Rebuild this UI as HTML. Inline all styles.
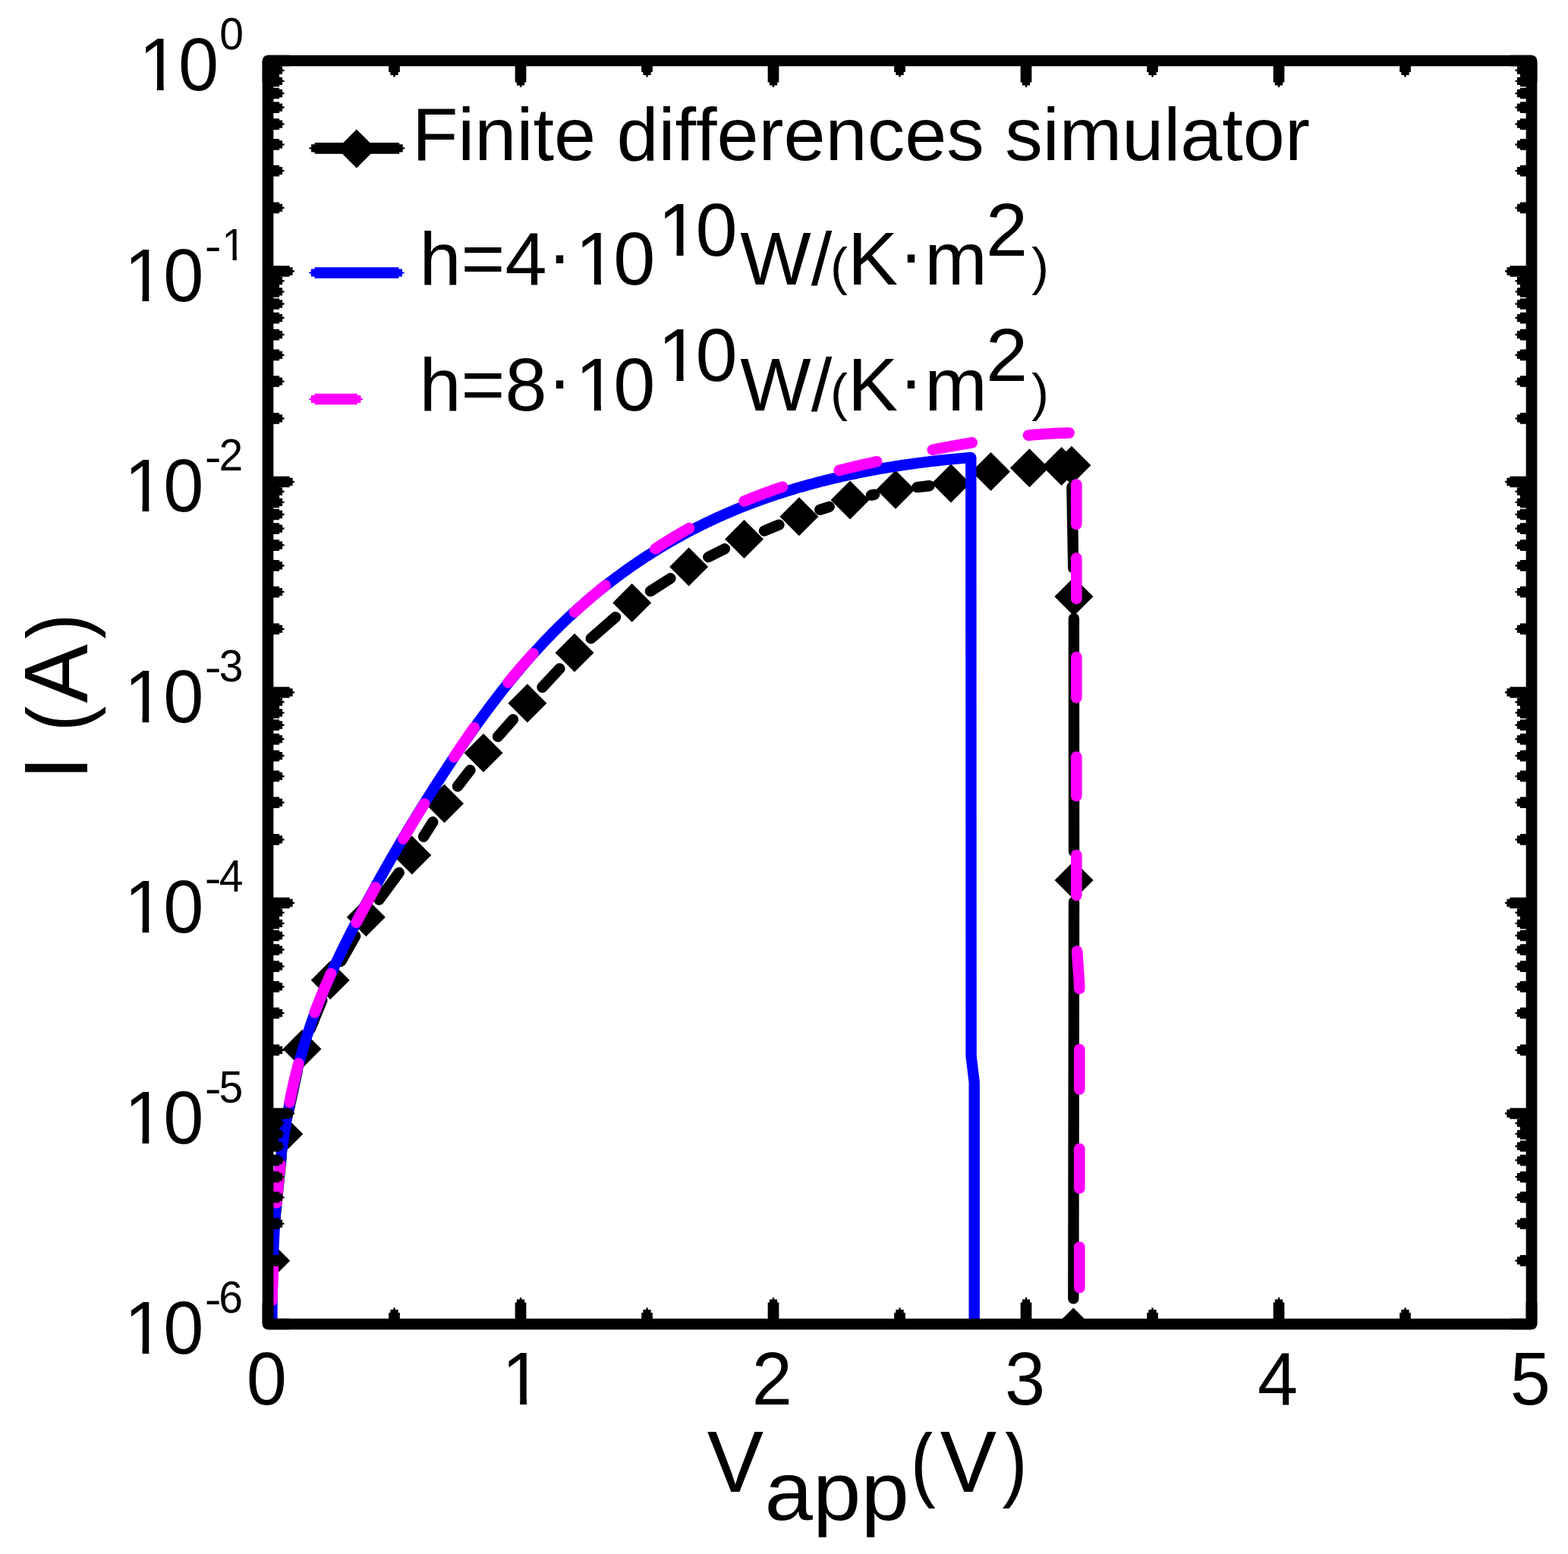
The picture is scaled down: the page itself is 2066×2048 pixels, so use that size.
<!DOCTYPE html><html><head><meta charset="utf-8"><style>html,body{margin:0;padding:0;background:#fff;}svg{display:block}</style></head><body>
<svg width="2066" height="2048" viewBox="0 0 2066 2048">
<rect width="2066" height="2048" fill="#fff"/>
<defs><clipPath id="pc"><rect x="353.0" y="80.0" width="1665.0" height="1665.0"/></clipPath><clipPath id="xc"><rect x="0" y="1887" width="2066" height="161"/></clipPath></defs>
<g clip-path="url(#pc)">
<path d="M359.62,1632.85 L370.88,1522.95 M379.87,1466.35 L391.93,1410.55 M408.88,1355.94 L424.32,1318.26 M449.38,1266.75 L468.12,1233.75 M499.37,1185.73 L525.73,1150.07 M558.06,1102.69 L570.24,1083.31 M603.02,1036.27 L619.48,1014.93 M656.01,970.70 L675.89,948.20 M714.49,905.72 L737.41,881.18 M778.68,841.39 L811.02,813.31 M856.92,779.11 L883.38,762.29 M933.28,734.08 L954.82,723.32 M1007.04,699.58 L1026.36,691.62 M1080.21,671.87 L1092.69,667.83 M1147.98,652.61 L1152.02,651.69 M1208.52,642.06 L1224.48,640.24 M1412.40,641.90 L1414.25,748.61 M1414.92,815.00 L1415.08,1122.30 M1415.06,1188.70 L1414.35,1711.30" stroke="#000" stroke-width="14.4" stroke-linecap="round" fill="none"/>
<path d="M356.70,1635.90 L382.20,1661.40 L356.70,1686.90 L331.20,1661.40Z M373.80,1468.90 L399.30,1494.40 L373.80,1519.90 L348.30,1494.40Z M398.00,1357.00 L423.50,1382.50 L398.00,1408.00 L372.50,1382.50Z M435.20,1266.20 L460.70,1291.70 L435.20,1317.20 L409.70,1291.70Z M482.30,1183.30 L507.80,1208.80 L482.30,1234.30 L456.80,1208.80Z M542.80,1101.50 L568.30,1127.00 L542.80,1152.50 L517.30,1127.00Z M585.50,1033.50 L611.00,1059.00 L585.50,1084.50 L560.00,1059.00Z M637.00,966.70 L662.50,992.20 L637.00,1017.70 L611.50,992.20Z M694.90,901.20 L720.40,926.70 L694.90,952.20 L669.40,926.70Z M757.00,834.70 L782.50,860.20 L757.00,885.70 L731.50,860.20Z M832.70,769.00 L858.20,794.50 L832.70,820.00 L807.20,794.50Z M907.60,721.40 L933.10,746.90 L907.60,772.40 L882.10,746.90Z M980.50,685.00 L1006.00,710.50 L980.50,736.00 L955.00,710.50Z M1052.90,655.20 L1078.40,680.70 L1052.90,706.20 L1027.40,680.70Z M1120.00,633.50 L1145.50,659.00 L1120.00,684.50 L1094.50,659.00Z M1180.00,619.80 L1205.50,645.30 L1180.00,670.80 L1154.50,645.30Z M1253.00,611.50 L1278.50,637.00 L1253.00,662.50 L1227.50,637.00Z M1305.50,596.00 L1331.00,621.50 L1305.50,647.00 L1280.00,621.50Z M1356.40,591.20 L1381.90,616.70 L1356.40,642.20 L1330.90,616.70Z M1398.70,589.00 L1424.20,614.50 L1398.70,640.00 L1373.20,614.50Z M1411.90,587.70 L1437.40,613.20 L1411.90,638.70 L1386.40,613.20Z M1414.90,760.80 L1440.40,786.30 L1414.90,811.80 L1389.40,786.30Z M1415.10,1134.50 L1440.60,1160.00 L1415.10,1185.50 L1389.60,1160.00Z M1414.30,1723.50 L1439.80,1749.00 L1414.30,1774.50 L1388.80,1749.00Z" fill="#000"/>
<path d="M357.50,1765.00 L358.42,1737.95 L358.43,1735.27 L358.44,1732.60 L358.45,1729.92 L358.46,1727.24 L358.48,1724.56 L358.50,1721.88 L358.52,1719.20 L358.54,1716.52 L358.57,1713.83 L358.60,1711.15 L358.63,1708.46 L358.66,1705.77 L358.70,1703.09 L358.74,1700.40 L358.78,1697.71 L358.83,1695.02 L358.88,1692.33 L358.93,1689.64 L358.99,1686.94 L359.05,1684.25 L359.11,1681.56 L359.18,1678.86 L359.25,1676.17 L359.32,1673.47 L359.39,1670.78 L359.47,1668.08 L359.56,1665.38 L359.64,1662.69 L359.74,1659.99 L359.83,1657.29 L359.93,1654.59 L360.03,1651.90 L360.14,1649.20 L360.25,1646.50 L360.36,1643.80 L360.48,1641.10 L360.60,1638.40 L360.72,1635.70 L360.86,1633.00 L360.99,1630.30 L361.13,1627.60 L361.27,1624.90 L361.42,1622.20 L361.57,1619.50 L361.73,1616.80 L361.89,1614.10 L362.05,1611.40 L362.22,1608.71 L362.40,1606.01 L362.58,1603.31 L362.76,1600.61 L362.95,1597.91 L363.15,1595.21 L363.35,1592.52 L363.55,1589.82 L363.76,1587.12 L363.97,1584.43 L364.19,1581.73 L364.42,1579.04 L364.65,1576.34 L364.88,1573.65 L365.12,1570.95 L365.37,1568.26 L365.62,1565.57 L365.88,1562.88 L366.14,1560.19 L366.41,1557.50 L366.68,1554.81 L366.96,1552.12 L367.25,1549.43 L367.54,1546.74 L367.84,1544.06 L368.14,1541.37 L368.45,1538.69 L368.76,1536.01 L369.08,1533.32 L369.41,1530.64 L369.74,1527.96 L370.08,1525.28 L370.43,1522.61 L370.78,1519.93 L371.14,1517.25 L371.50,1514.58 L371.87,1511.91 L372.25,1509.24 L372.64,1506.57 L373.03,1503.90 L373.43,1501.23 L373.83,1498.56 L374.24,1495.90 L374.66,1493.23 L375.08,1490.57 L375.51,1487.91 L375.95,1485.25 L376.40,1482.60 L376.85,1479.94 L377.31,1477.29 L377.78,1474.64 L378.25,1471.99 L378.73,1469.34 L379.22,1466.69 L379.72,1464.04 L380.22,1461.40 L380.73,1458.76 L381.25,1456.12 L381.78,1453.48 L382.31,1450.85 L382.85,1448.21 L383.40,1445.58 L383.96,1442.95 L384.53,1440.32 L385.10,1437.70 L385.68,1435.07 L386.27,1432.45 L386.86,1429.83 L387.47,1427.22 L388.08,1424.60 L388.70,1421.99 L389.33,1419.38 L389.97,1416.77 L390.62,1414.16 L391.27,1411.56 L391.93,1408.96 L392.61,1406.36 L393.28,1403.77 L393.97,1401.17 L394.67,1398.58 L395.38,1395.99 L396.09,1393.41 L396.81,1390.83 L397.55,1388.25 L398.29,1385.67 L399.04,1383.09 L399.80,1380.52 L400.56,1377.95 L401.34,1375.38 L402.13,1372.82 L402.92,1370.26 L403.73,1367.70 L404.54,1365.15 L405.36,1362.59 L406.20,1360.05 L407.04,1357.50 L407.89,1354.96 L408.75,1352.42 L409.62,1349.88 L410.50,1347.35 L411.39,1344.81 L412.29,1342.29 L413.20,1339.76 L414.12,1337.24 L415.05,1334.72 L415.99,1332.21 L416.94,1329.70 L417.89,1327.19 L418.86,1324.68 L419.83,1322.18 L420.82,1319.68 L421.81,1317.19 L422.81,1314.69 L423.82,1312.20 L424.84,1309.71 L425.86,1307.23 L426.90,1304.75 L427.94,1302.27 L428.99,1299.79 L430.05,1297.32 L431.11,1294.85 L432.18,1292.38 L433.26,1289.91 L434.35,1287.45 L435.44,1284.99 L436.55,1282.53 L437.65,1280.08 L438.77,1277.63 L439.89,1275.18 L441.02,1272.73 L442.15,1270.28 L443.29,1267.84 L444.44,1265.40 L445.59,1262.96 L446.75,1260.53 L447.92,1258.10 L449.09,1255.67 L450.27,1253.24 L451.45,1250.81 L452.63,1248.39 L453.83,1245.97 L455.02,1243.55 L456.23,1241.13 L457.43,1238.72 L458.64,1236.30 L459.86,1233.89 L461.08,1231.48 L462.31,1229.08 L463.54,1226.67 L464.77,1224.27 L466.01,1221.87 L467.25,1219.47 L468.50,1217.07 L469.74,1214.68 L471.00,1212.29 L472.25,1209.90 L473.51,1207.51 L474.78,1205.12 L476.04,1202.73 L477.31,1200.35 L478.58,1197.97 L479.85,1195.59 L481.13,1193.21 L482.41,1190.83 L483.69,1188.46 L484.98,1186.08 L486.26,1183.71 L487.55,1181.34 L488.84,1178.97 L490.14,1176.60 L491.43,1174.24 L492.73,1171.87 L494.04,1169.51 L495.34,1167.15 L496.65,1164.79 L497.96,1162.43 L499.27,1160.08 L500.58,1157.72 L501.90,1155.37 L503.22,1153.02 L504.54,1150.67 L505.86,1148.32 L507.19,1145.98 L508.52,1143.63 L509.85,1141.29 L511.19,1138.95 L512.52,1136.61 L513.86,1134.27 L515.21,1131.93 L516.55,1129.60 L517.90,1127.26 L519.25,1124.93 L520.60,1122.60 L521.96,1120.27 L523.31,1117.94 L524.68,1115.62 L526.04,1113.29 L527.40,1110.97 L528.77,1108.65 L530.14,1106.33 L531.52,1104.01 L532.89,1101.70 L534.27,1099.38 L535.65,1097.07 L537.04,1094.76 L538.42,1092.45 L539.81,1090.14 L541.21,1087.83 L542.60,1085.53 L544.00,1083.23 L545.40,1080.92 L546.80,1078.62 L548.21,1076.32 L549.61,1074.03 L551.03,1071.73 L552.44,1069.44 L553.86,1067.14 L555.27,1064.85 L556.70,1062.56 L558.12,1060.27 L559.55,1057.99 L560.98,1055.70 L562.41,1053.42 L563.84,1051.14 L565.28,1048.86 L566.72,1046.58 L568.17,1044.30 L569.61,1042.02 L571.06,1039.75 L572.51,1037.48 L573.97,1035.21 L575.42,1032.94 L576.88,1030.67 L578.35,1028.40 L579.81,1026.14 L581.28,1023.87 L582.75,1021.61 L584.23,1019.35 L585.70,1017.09 L587.18,1014.83 L588.66,1012.58 L590.15,1010.32 L591.64,1008.07 L593.13,1005.82 L594.62,1003.57 L596.12,1001.32 L597.62,999.08 L599.12,996.83 L600.63,994.59 L602.14,992.35 L603.65,990.12 L605.17,987.88 L606.69,985.65 L608.21,983.42 L609.74,981.19 L611.27,978.97 L612.81,976.74 L614.34,974.52 L615.89,972.31 L617.43,970.09 L618.98,967.88 L620.53,965.67 L622.09,963.46 L623.65,961.26 L625.21,959.06 L626.78,956.86 L628.35,954.67 L629.93,952.48 L631.51,950.29 L633.09,948.10 L634.68,945.92 L636.27,943.74 L637.87,941.57 L639.47,939.40 L641.08,937.23 L642.69,935.07 L644.30,932.91 L645.92,930.75 L647.55,928.60 L649.17,926.45 L650.81,924.30 L652.44,922.16 L654.09,920.02 L655.73,917.89 L657.38,915.76 L659.04,913.63 L660.70,911.51 L662.37,909.40 L664.04,907.28 L665.71,905.18 L667.40,903.07 L669.08,900.97 L670.77,898.88 L672.47,896.79 L674.17,894.70 L675.88,892.62 L677.59,890.55 L679.31,888.47 L681.03,886.41 L682.76,884.35 L684.49,882.29 L686.23,880.24 L687.98,878.19 L689.73,876.15 L691.48,874.12 L693.24,872.08 L695.01,870.06 L696.78,868.04 L698.56,866.02 L700.35,864.02 L702.14,862.01 L703.94,860.01 L705.74,858.02 L707.55,856.04 L709.36,854.06 L711.18,852.08 L713.01,850.11 L714.84,848.15 L716.68,846.19 L718.53,844.24 L720.38,842.30 L722.24,840.36 L724.11,838.42 L725.98,836.50 L727.86,834.58 L729.74,832.66 L731.63,830.76 L733.53,828.86 L735.43,826.96 L737.34,825.08 L739.26,823.19 L741.19,821.32 L743.12,819.45 L745.06,817.59 L747.00,815.74 L748.95,813.89 L750.91,812.05 L752.88,810.22 L754.85,808.40 L756.84,806.58 L758.82,804.77 L760.82,802.96 L762.82,801.17 L764.83,799.38 L766.85,797.60 L768.87,795.82 L770.90,794.05 L772.94,792.29 L774.98,790.54 L777.03,788.80 L779.09,787.06 L781.15,785.33 L783.22,783.61 L785.30,781.89 L787.39,780.19 L789.48,778.49 L791.57,776.80 L793.68,775.11 L795.79,773.43 L797.91,771.77 L800.03,770.10 L802.16,768.45 L804.29,766.81 L806.44,765.17 L808.59,763.54 L810.74,761.92 L812.90,760.30 L815.07,758.70 L817.24,757.10 L819.42,755.51 L821.61,753.92 L823.80,752.35 L826.00,750.78 L828.20,749.23 L830.41,747.67 L832.62,746.13 L834.84,744.60 L837.07,743.07 L839.30,741.56 L841.54,740.05 L843.79,738.55 L846.03,737.05 L848.29,735.57 L850.55,734.09 L852.82,732.62 L855.09,731.16 L857.36,729.71 L859.65,728.27 L861.93,726.84 L864.23,725.41 L866.53,723.99 L868.83,722.59 L871.14,721.19 L873.45,719.79 L875.77,718.41 L878.10,717.04 L880.42,715.67 L882.76,714.31 L885.10,712.97 L887.44,711.63 L889.79,710.30 L892.14,708.97 L894.50,707.66 L896.87,706.36 L899.24,705.06 L901.61,703.77 L903.99,702.50 L906.37,701.23 L908.76,699.97 L911.15,698.72 L913.54,697.48 L915.94,696.24 L918.35,695.02 L920.76,693.80 L923.17,692.60 L925.59,691.40 L928.01,690.22 L930.44,689.04 L932.87,687.87 L935.31,686.71 L937.75,685.56 L940.19,684.42 L942.64,683.29 L945.09,682.17 L947.54,681.05 L950.00,679.95 L952.47,678.85 L954.93,677.77 L957.41,676.69 L959.88,675.63 L962.36,674.57 L964.84,673.52 L967.33,672.48 L969.82,671.45 L972.31,670.42 L974.81,669.41 L977.31,668.41 L979.81,667.41 L982.32,666.42 L984.83,665.44 L987.35,664.47 L989.87,663.51 L992.39,662.56 L994.91,661.62 L997.44,660.68 L999.97,659.75 L1002.51,658.84 L1005.04,657.93 L1007.58,657.03 L1010.13,656.13 L1012.68,655.25 L1015.23,654.37 L1017.78,653.50 L1020.33,652.64 L1022.89,651.79 L1025.45,650.95 L1028.02,650.11 L1030.59,649.29 L1033.16,648.47 L1035.73,647.66 L1038.30,646.85 L1040.88,646.06 L1043.46,645.27 L1046.05,644.49 L1048.63,643.72 L1051.22,642.96 L1053.81,642.20 L1056.40,641.46 L1059.00,640.72 L1061.60,639.98 L1064.20,639.26 L1066.80,638.54 L1069.40,637.83 L1072.01,637.13 L1074.62,636.44 L1077.23,635.75 L1079.85,635.07 L1082.46,634.40 L1085.08,633.73 L1087.70,633.08 L1090.32,632.43 L1092.94,631.79 L1095.57,631.15 L1098.19,630.52 L1100.82,629.90 L1103.45,629.29 L1106.09,628.68 L1108.72,628.08 L1111.36,627.49 L1113.99,626.90 L1116.63,626.33 L1119.27,625.76 L1121.91,625.19 L1124.56,624.63 L1127.20,624.08 L1129.85,623.54 L1132.49,623.00 L1135.14,622.47 L1137.79,621.95 L1140.45,621.43 L1143.10,620.92 L1145.75,620.42 L1148.41,619.92 L1151.06,619.43 L1153.72,618.95 L1156.38,618.47 L1159.04,618.00 L1161.70,617.53 L1164.36,617.08 L1167.02,616.62 L1169.68,616.18 L1172.35,615.74 L1175.01,615.31 L1177.67,614.88 L1180.34,614.46 L1183.01,614.05 L1185.67,613.64 L1188.34,613.23 L1191.01,612.84 L1193.68,612.45 L1196.35,612.06 L1199.02,611.69 L1201.69,611.31 L1204.36,610.95 L1207.03,610.59 L1209.70,610.23 L1212.37,609.88 L1215.04,609.54 L1217.71,609.20 L1220.38,608.87 L1223.05,608.54 L1225.73,608.22 L1228.40,607.91 L1231.07,607.60 L1233.74,607.29 L1236.41,606.99 L1239.09,606.70 L1241.76,606.41 L1244.43,606.13 L1247.10,605.85 L1249.77,605.58 L1252.44,605.32 L1255.11,605.05 L1257.78,604.80 L1260.45,604.55 L1263.12,604.30 L1265.79,604.06 L1268.46,603.82 L1271.12,603.59 L1273.79,603.37 L1276.46,603.15 L1279.12,602.93 M1279.30,603.50 L1279.60,1392.00 L1283.70,1426.00 L1283.70,1765.00" stroke="#0000ff" stroke-width="14.4" stroke-linejoin="round" stroke-linecap="round" fill="none"/>
<path d="M358.46,1713.90 L358.53,1711.55 L358.60,1709.19 L358.68,1706.84 L358.75,1704.49 L358.82,1702.13 L358.90,1699.78 L358.97,1697.42 L359.05,1695.07 L359.12,1692.72 L359.20,1690.36 L359.28,1688.01 L359.36,1685.66 L359.44,1683.31 L359.52,1680.95 L359.60,1678.60 L359.69,1676.25 L359.77,1673.90 L359.86,1671.55 L359.95,1669.19 L360.04,1666.84 L360.13,1664.49 L360.20,1662.73 M364.46,1585.30 L364.64,1582.96 L364.82,1580.62 L365.01,1578.28 L365.19,1575.94 L365.38,1573.60 L365.58,1571.26 L365.78,1568.92 L365.98,1566.59 L366.19,1564.25 L366.40,1561.91 L366.61,1559.58 L366.83,1557.24 L367.05,1554.90 L367.28,1552.57 L367.51,1550.23 L367.74,1547.90 L367.98,1545.57 L368.22,1543.23 L368.47,1540.90 L368.72,1538.57 L368.98,1536.24 L369.24,1533.91 L369.24,1533.91 M381.63,1452.68 L382.09,1450.37 L382.55,1448.07 L383.02,1445.76 L383.50,1443.46 L383.99,1441.15 L384.48,1438.85 L384.97,1436.55 L385.47,1434.25 L385.98,1431.96 L386.50,1429.66 L387.02,1427.36 L387.55,1425.07 L388.09,1422.78 L388.63,1420.49 L389.18,1418.20 L389.73,1415.91 L390.30,1413.63 L390.87,1411.34 L391.44,1409.06 L392.03,1406.78 L392.61,1404.50 L393.21,1402.23 L393.36,1401.66 M414.66,1334.51 L415.49,1332.32 L416.32,1330.12 L417.16,1327.94 L418.01,1325.75 L418.87,1323.57 L419.73,1321.39 L420.60,1319.21 L421.47,1317.04 L422.35,1314.86 L423.24,1312.70 L424.14,1310.53 L425.04,1308.37 L425.95,1306.20 L426.86,1304.05 L427.78,1301.89 L428.71,1299.74 L429.64,1297.59 L430.58,1295.44 L431.53,1293.29 L432.48,1291.15 L433.43,1289.01 L434.39,1286.87 L435.36,1284.73 L436.09,1283.13 M469.51,1215.83 L470.61,1213.75 L471.72,1211.67 L472.82,1209.60 L473.93,1207.52 L475.04,1205.45 L476.15,1203.38 L477.27,1201.31 L478.38,1199.24 L479.50,1197.17 L480.62,1195.10 L481.75,1193.03 L482.87,1190.97 L483.99,1188.90 L485.12,1186.84 L486.25,1184.77 L487.38,1182.71 L488.51,1180.65 L489.65,1178.59 L490.78,1176.53 L491.92,1174.47 L493.06,1172.41 L494.20,1170.35 L494.77,1169.32 M531.25,1105.53 L532.45,1103.51 L533.64,1101.48 L534.84,1099.46 L536.04,1097.44 L537.24,1095.42 L538.45,1093.40 L539.65,1091.38 L540.86,1089.36 L542.07,1087.35 L543.28,1085.33 L544.49,1083.32 L545.70,1081.31 L546.92,1079.29 L548.13,1077.28 L549.35,1075.27 L550.57,1073.27 L551.80,1071.26 L553.02,1069.25 L554.25,1067.25 L555.47,1065.24 L556.70,1063.24 L557.93,1061.24 L559.17,1059.24 L559.17,1059.24 M598.28,997.85 L599.57,995.90 L600.87,993.94 L602.17,991.98 L603.47,990.03 L604.77,988.08 L606.08,986.13 L607.39,984.19 L608.70,982.24 L610.01,980.30 L611.33,978.36 L612.65,976.42 L613.97,974.48 L615.30,972.55 L616.63,970.61 L617.96,968.68 L619.29,966.75 L620.63,964.83 L621.97,962.90 L623.32,960.98 L624.67,959.06 L624.67,959.06 M669.51,899.61 L670.99,897.79 L672.48,895.98 L673.98,894.16 L675.48,892.36 L676.99,890.55 L678.50,888.75 L680.01,886.95 L681.54,885.16 L683.06,883.37 L684.59,881.59 L686.13,879.80 L687.67,878.03 L689.22,876.25 L690.77,874.48 L692.33,872.72 L693.89,870.95 L695.45,869.20 L697.02,867.44 L698.60,865.69 L700.18,863.95 L701.76,862.20 L702.56,861.33 M757.06,806.68 L758.80,805.09 L760.54,803.50 L762.28,801.91 L764.03,800.33 L765.79,798.76 L767.54,797.19 L769.31,795.62 L771.07,794.06 L772.84,792.50 L774.62,790.95 L776.39,789.40 L778.18,787.86 L779.96,786.33 L781.75,784.79 L783.55,783.27 L785.35,781.75 L787.15,780.23 L788.95,778.72 L790.76,777.21 L792.58,775.71 L794.40,774.21 L796.22,772.72 L797.59,771.61 M863.44,723.31 L865.40,722.02 L867.37,720.74 L869.34,719.47 L871.31,718.20 L873.29,716.93 L875.27,715.68 L877.26,714.43 L879.25,713.18 L881.24,711.95 L883.23,710.71 L885.23,709.49 L887.24,708.27 L889.24,707.06 L891.26,705.85 L893.27,704.65 L895.29,703.46 L897.31,702.27 L899.34,701.09 L901.36,699.92 L903.40,698.75 L905.43,697.59 L907.47,696.44 L907.98,696.15 M980.52,660.58 L982.68,659.68 L984.85,658.78 L987.02,657.89 L989.19,657.01 L991.37,656.14 L993.55,655.27 L995.73,654.41 L997.92,653.56 L1000.11,652.72 L1002.30,651.88 L1004.49,651.05 L1006.69,650.23 L1008.89,649.41 L1011.10,648.60 L1013.30,647.80 L1015.51,647.01 L1017.73,646.22 L1019.94,645.44 L1022.16,644.66 L1024.38,643.89 L1026.60,643.13 L1028.83,642.37 L1031.06,641.62 L1031.06,641.62 M1105.76,619.94 L1108.05,619.36 L1110.34,618.78 L1112.63,618.21 L1114.92,617.65 L1117.22,617.08 L1119.51,616.52 L1121.81,615.97 L1124.11,615.41 L1126.40,614.86 L1128.70,614.32 L1131.00,613.77 L1133.30,613.23 L1135.60,612.70 L1137.90,612.16 L1140.20,611.63 L1142.51,611.10 L1144.81,610.58 L1147.11,610.06 L1149.41,609.54 L1151.72,609.02 L1154.02,608.50 L1155.17,608.25 M1228.85,592.80 L1231.15,592.35 L1233.45,591.90 L1235.74,591.45 L1238.04,591.01 L1240.34,590.57 L1242.64,590.13 L1244.95,589.70 L1247.25,589.27 L1249.55,588.84 L1251.85,588.41 L1254.15,587.99 L1256.45,587.57 L1258.75,587.15 L1261.06,586.74 L1263.36,586.33 L1265.66,585.93 L1267.97,585.52 L1270.27,585.12 L1272.57,584.73 L1274.88,584.34 L1277.19,583.95 L1279.49,583.57 L1280.65,583.38 M1354.95,573.66 L1357.30,573.45 L1359.64,573.24 L1361.99,573.04 L1364.33,572.85 L1366.68,572.66 L1369.03,572.48 L1371.38,572.31 L1373.74,572.14 L1376.09,571.98 L1378.45,571.83 L1380.81,571.68 L1383.17,571.54 L1385.53,571.40 L1387.90,571.28 L1390.26,571.16 L1392.63,571.05 L1395.00,570.94 L1397.38,570.85 L1399.75,570.76 L1402.13,570.68 L1404.51,570.60 L1406.89,570.53 L1408.67,570.49 M1418.30,638.50 L1418.30,640.50 L1418.30,642.50 L1418.30,644.50 L1418.30,646.50 L1418.30,648.50 L1418.30,650.50 L1418.30,652.50 L1418.30,654.50 L1418.30,656.50 L1418.30,658.50 L1418.30,660.50 L1418.30,662.50 L1418.30,664.50 L1418.30,666.50 L1418.30,668.50 L1418.30,670.50 L1418.30,672.50 L1418.30,674.50 L1418.30,676.50 L1418.30,678.50 L1418.30,680.50 L1418.30,682.50 L1418.30,684.50 L1418.30,686.50 L1418.30,688.50 L1418.30,690.50 L1418.30,691.00 M1418.30,735.50 L1418.30,739.50 L1418.30,743.50 L1418.30,747.50 L1418.30,751.50 L1418.30,755.50 L1418.30,759.50 L1418.30,763.50 L1418.30,767.50 L1418.30,771.50 L1418.30,775.50 L1418.30,779.50 L1418.30,783.50 L1418.30,787.50 L1418.30,789.00 M1418.30,866.00 L1418.30,870.00 L1418.30,874.00 L1418.30,878.00 L1418.30,882.00 L1418.30,886.00 L1418.30,890.00 L1418.30,894.00 L1418.30,898.00 L1418.30,902.00 L1418.30,906.00 L1418.30,910.00 L1418.30,914.00 L1418.30,918.00 L1418.30,919.50 M1418.30,997.50 L1418.30,1001.50 L1418.30,1005.50 L1418.30,1009.50 L1418.30,1013.50 L1418.30,1017.50 L1418.30,1021.50 L1418.30,1025.50 L1418.30,1029.50 L1418.30,1033.50 L1418.30,1037.50 L1418.30,1041.50 L1418.30,1045.50 L1418.30,1049.00 M1418.30,1127.00 L1418.30,1131.00 L1418.30,1135.00 L1418.30,1139.00 L1418.30,1143.00 L1418.30,1147.00 L1418.30,1151.00 L1418.30,1155.00 L1418.30,1159.00 L1418.30,1163.00 L1418.30,1167.00 L1418.30,1171.00 L1418.30,1175.00 L1418.30,1179.00 L1418.30,1180.00 M1419.20,1253.50 L1419.47,1257.50 L1419.73,1261.50 L1420.00,1265.50 L1420.27,1269.50 L1420.53,1273.50 L1420.80,1277.50 L1421.07,1281.50 L1421.33,1285.50 L1421.60,1289.50 L1421.87,1293.50 L1422.13,1297.50 L1422.30,1301.50 L1422.30,1303.00 M1422.30,1383.00 L1422.30,1387.00 L1422.30,1391.00 L1422.30,1395.00 L1422.30,1399.00 L1422.30,1403.00 L1422.30,1407.00 L1422.30,1411.00 L1422.30,1415.00 L1422.30,1419.00 L1422.30,1423.00 L1422.30,1427.00 L1422.30,1431.00 L1422.30,1435.00 L1422.30,1435.50 M1422.30,1514.00 L1422.30,1518.00 L1422.30,1522.00 L1422.30,1526.00 L1422.30,1530.00 L1422.30,1534.00 L1422.30,1538.00 L1422.30,1542.00 L1422.30,1546.00 L1422.30,1550.00 L1422.30,1554.00 L1422.30,1558.00 L1422.30,1562.00 L1422.30,1566.00 L1422.30,1566.00 M1422.30,1643.50 L1422.30,1647.50 L1422.30,1651.50 L1422.30,1655.50 L1422.30,1659.50 L1422.30,1663.50 L1422.30,1667.50 L1422.30,1671.50 L1422.30,1675.50 L1422.30,1679.50 L1422.30,1683.50 L1422.30,1687.50 L1422.30,1691.50 L1422.30,1695.50 L1422.30,1697.00" stroke="#ff00ff" stroke-width="14.6" stroke-linejoin="round" stroke-linecap="round" fill="none"/>
</g>
<rect x="353.0" y="80.0" width="1665.0" height="1665.0" fill="none" stroke="#000" stroke-width="14.7" stroke-linejoin="round"/>
<path d="M345.65,1716.40H360.35V1745.00H345.65ZM347.85,1712.40H358.15V1716.40H347.85ZM351.80,1710.00H354.20V1712.40H351.80ZM345.65,80.00H360.35V108.60H345.65ZM347.85,108.60H358.15V112.60H347.85ZM351.80,112.60H354.20V115.00H351.80ZM678.65,1716.40H693.35V1745.00H678.65ZM680.85,1712.40H691.15V1716.40H680.85ZM684.80,1710.00H687.20V1712.40H684.80ZM678.65,80.00H693.35V108.60H678.65ZM680.85,108.60H691.15V112.60H680.85ZM684.80,112.60H687.20V115.00H684.80ZM1011.65,1716.40H1026.35V1745.00H1011.65ZM1013.85,1712.40H1024.15V1716.40H1013.85ZM1017.80,1710.00H1020.20V1712.40H1017.80ZM1011.65,80.00H1026.35V108.60H1011.65ZM1013.85,108.60H1024.15V112.60H1013.85ZM1017.80,112.60H1020.20V115.00H1017.80ZM1344.65,1716.40H1359.35V1745.00H1344.65ZM1346.85,1712.40H1357.15V1716.40H1346.85ZM1350.80,1710.00H1353.20V1712.40H1350.80ZM1344.65,80.00H1359.35V108.60H1344.65ZM1346.85,108.60H1357.15V112.60H1346.85ZM1350.80,112.60H1353.20V115.00H1350.80ZM1677.65,1716.40H1692.35V1745.00H1677.65ZM1679.85,1712.40H1690.15V1716.40H1679.85ZM1683.80,1710.00H1686.20V1712.40H1683.80ZM1677.65,80.00H1692.35V108.60H1677.65ZM1679.85,108.60H1690.15V112.60H1679.85ZM1683.80,112.60H1686.20V115.00H1683.80ZM2010.65,1716.40H2025.35V1745.00H2010.65ZM2012.85,1712.40H2023.15V1716.40H2012.85ZM2016.80,1710.00H2019.20V1712.40H2016.80ZM2010.65,80.00H2025.35V108.60H2010.65ZM2012.85,108.60H2023.15V112.60H2012.85ZM2016.80,112.60H2019.20V115.00H2016.80ZM512.15,1729.90H526.85V1745.00H512.15ZM514.35,1725.90H524.65V1729.90H514.35ZM518.30,1723.50H520.70V1725.90H518.30ZM512.15,80.00H526.85V95.10H512.15ZM514.35,95.10H524.65V99.10H514.35ZM518.30,99.10H520.70V101.50H518.30ZM845.15,1729.90H859.85V1745.00H845.15ZM847.35,1725.90H857.65V1729.90H847.35ZM851.30,1723.50H853.70V1725.90H851.30ZM845.15,80.00H859.85V95.10H845.15ZM847.35,95.10H857.65V99.10H847.35ZM851.30,99.10H853.70V101.50H851.30ZM1178.15,1729.90H1192.85V1745.00H1178.15ZM1180.35,1725.90H1190.65V1729.90H1180.35ZM1184.30,1723.50H1186.70V1725.90H1184.30ZM1178.15,80.00H1192.85V95.10H1178.15ZM1180.35,95.10H1190.65V99.10H1180.35ZM1184.30,99.10H1186.70V101.50H1184.30ZM1511.15,1729.90H1525.85V1745.00H1511.15ZM1513.35,1725.90H1523.65V1729.90H1513.35ZM1517.30,1723.50H1519.70V1725.90H1517.30ZM1511.15,80.00H1525.85V95.10H1511.15ZM1513.35,95.10H1523.65V99.10H1513.35ZM1517.30,99.10H1519.70V101.50H1517.30ZM1844.15,1729.90H1858.85V1745.00H1844.15ZM1846.35,1725.90H1856.65V1729.90H1846.35ZM1850.30,1723.50H1852.70V1725.90H1850.30ZM1844.15,80.00H1858.85V95.10H1844.15ZM1846.35,95.10H1856.65V99.10H1846.35ZM1850.30,99.10H1852.70V101.50H1850.30ZM353.00,72.65H381.60V87.35H353.00ZM381.60,74.85H385.60V85.15H381.60ZM385.60,78.80H388.00V81.20H385.60ZM1989.40,72.65H2018.00V87.35H1989.40ZM1985.40,74.85H1989.40V85.15H1985.40ZM1983.00,78.80H1985.40V81.20H1983.00ZM353.00,350.15H381.60V364.85H353.00ZM381.60,352.35H385.60V362.65H381.60ZM385.60,356.30H388.00V358.70H385.60ZM1989.40,350.15H2018.00V364.85H1989.40ZM1985.40,352.35H1989.40V362.65H1985.40ZM1983.00,356.30H1985.40V358.70H1983.00ZM353.00,627.65H381.60V642.35H353.00ZM381.60,629.85H385.60V640.15H381.60ZM385.60,633.80H388.00V636.20H385.60ZM1989.40,627.65H2018.00V642.35H1989.40ZM1985.40,629.85H1989.40V640.15H1985.40ZM1983.00,633.80H1985.40V636.20H1983.00ZM353.00,905.15H381.60V919.85H353.00ZM381.60,907.35H385.60V917.65H381.60ZM385.60,911.30H388.00V913.70H385.60ZM1989.40,905.15H2018.00V919.85H1989.40ZM1985.40,907.35H1989.40V917.65H1985.40ZM1983.00,911.30H1985.40V913.70H1983.00ZM353.00,1182.65H381.60V1197.35H353.00ZM381.60,1184.85H385.60V1195.15H381.60ZM385.60,1188.80H388.00V1191.20H385.60ZM1989.40,1182.65H2018.00V1197.35H1989.40ZM1985.40,1184.85H1989.40V1195.15H1985.40ZM1983.00,1188.80H1985.40V1191.20H1983.00ZM353.00,1460.15H381.60V1474.85H353.00ZM381.60,1462.35H385.60V1472.65H381.60ZM385.60,1466.30H388.00V1468.70H385.60ZM1989.40,1460.15H2018.00V1474.85H1989.40ZM1985.40,1462.35H1989.40V1472.65H1985.40ZM1983.00,1466.30H1985.40V1468.70H1983.00ZM353.00,1737.65H381.60V1752.35H353.00ZM381.60,1739.85H385.60V1750.15H381.60ZM385.60,1743.80H388.00V1746.20H385.60ZM1989.40,1737.65H2018.00V1752.35H1989.40ZM1985.40,1739.85H1989.40V1750.15H1985.40ZM1983.00,1743.80H1985.40V1746.20H1983.00ZM353.00,266.61H368.10V281.31H353.00ZM368.10,268.81H372.10V279.11H368.10ZM372.10,272.76H374.50V275.16H372.10ZM2002.90,266.61H2018.00V281.31H2002.90ZM1998.90,268.81H2002.90V279.11H1998.90ZM1996.50,272.76H1998.90V275.16H1996.50ZM353.00,217.75H368.10V232.45H353.00ZM368.10,219.95H372.10V230.25H368.10ZM372.10,223.90H374.50V226.30H372.10ZM2002.90,217.75H2018.00V232.45H2002.90ZM1998.90,219.95H2002.90V230.25H1998.90ZM1996.50,223.90H1998.90V226.30H1996.50ZM353.00,183.08H368.10V197.78H353.00ZM368.10,185.28H372.10V195.58H368.10ZM372.10,189.23H374.50V191.63H372.10ZM2002.90,183.08H2018.00V197.78H2002.90ZM1998.90,185.28H2002.90V195.58H1998.90ZM1996.50,189.23H1998.90V191.63H1996.50ZM353.00,156.19H368.10V170.89H353.00ZM368.10,158.39H372.10V168.69H368.10ZM372.10,162.34H374.50V164.74H372.10ZM2002.90,156.19H2018.00V170.89H2002.90ZM1998.90,158.39H2002.90V168.69H1998.90ZM1996.50,162.34H1998.90V164.74H1996.50ZM353.00,134.21H368.10V148.91H353.00ZM368.10,136.41H372.10V146.71H368.10ZM372.10,140.36H374.50V142.76H372.10ZM2002.90,134.21H2018.00V148.91H2002.90ZM1998.90,136.41H2002.90V146.71H1998.90ZM1996.50,140.36H1998.90V142.76H1996.50ZM353.00,115.64H368.10V130.34H353.00ZM368.10,117.84H372.10V128.14H368.10ZM372.10,121.79H374.50V124.19H372.10ZM2002.90,115.64H2018.00V130.34H2002.90ZM1998.90,117.84H2002.90V128.14H1998.90ZM1996.50,121.79H1998.90V124.19H1996.50ZM353.00,99.54H368.10V114.24H353.00ZM368.10,101.74H372.10V112.04H368.10ZM372.10,105.69H374.50V108.09H372.10ZM2002.90,99.54H2018.00V114.24H2002.90ZM1998.90,101.74H2002.90V112.04H1998.90ZM1996.50,105.69H1998.90V108.09H1996.50ZM353.00,85.35H368.10V100.05H353.00ZM368.10,87.55H372.10V97.85H368.10ZM372.10,91.50H374.50V93.90H372.10ZM2002.90,85.35H2018.00V100.05H2002.90ZM1998.90,87.55H2002.90V97.85H1998.90ZM1996.50,91.50H1998.90V93.90H1996.50ZM353.00,544.11H368.10V558.81H353.00ZM368.10,546.31H372.10V556.61H368.10ZM372.10,550.26H374.50V552.66H372.10ZM2002.90,544.11H2018.00V558.81H2002.90ZM1998.90,546.31H2002.90V556.61H1998.90ZM1996.50,550.26H1998.90V552.66H1996.50ZM353.00,495.25H368.10V509.95H353.00ZM368.10,497.45H372.10V507.75H368.10ZM372.10,501.40H374.50V503.80H372.10ZM2002.90,495.25H2018.00V509.95H2002.90ZM1998.90,497.45H2002.90V507.75H1998.90ZM1996.50,501.40H1998.90V503.80H1996.50ZM353.00,460.58H368.10V475.28H353.00ZM368.10,462.78H372.10V473.08H368.10ZM372.10,466.73H374.50V469.13H372.10ZM2002.90,460.58H2018.00V475.28H2002.90ZM1998.90,462.78H2002.90V473.08H1998.90ZM1996.50,466.73H1998.90V469.13H1996.50ZM353.00,433.69H368.10V448.39H353.00ZM368.10,435.89H372.10V446.19H368.10ZM372.10,439.84H374.50V442.24H372.10ZM2002.90,433.69H2018.00V448.39H2002.90ZM1998.90,435.89H2002.90V446.19H1998.90ZM1996.50,439.84H1998.90V442.24H1996.50ZM353.00,411.71H368.10V426.41H353.00ZM368.10,413.91H372.10V424.21H368.10ZM372.10,417.86H374.50V420.26H372.10ZM2002.90,411.71H2018.00V426.41H2002.90ZM1998.90,413.91H2002.90V424.21H1998.90ZM1996.50,417.86H1998.90V420.26H1996.50ZM353.00,393.14H368.10V407.84H353.00ZM368.10,395.34H372.10V405.64H368.10ZM372.10,399.29H374.50V401.69H372.10ZM2002.90,393.14H2018.00V407.84H2002.90ZM1998.90,395.34H2002.90V405.64H1998.90ZM1996.50,399.29H1998.90V401.69H1996.50ZM353.00,377.04H368.10V391.74H353.00ZM368.10,379.24H372.10V389.54H368.10ZM372.10,383.19H374.50V385.59H372.10ZM2002.90,377.04H2018.00V391.74H2002.90ZM1998.90,379.24H2002.90V389.54H1998.90ZM1996.50,383.19H1998.90V385.59H1996.50ZM353.00,362.85H368.10V377.55H353.00ZM368.10,365.05H372.10V375.35H368.10ZM372.10,369.00H374.50V371.40H372.10ZM2002.90,362.85H2018.00V377.55H2002.90ZM1998.90,365.05H2002.90V375.35H1998.90ZM1996.50,369.00H1998.90V371.40H1996.50ZM353.00,821.61H368.10V836.31H353.00ZM368.10,823.81H372.10V834.11H368.10ZM372.10,827.76H374.50V830.16H372.10ZM2002.90,821.61H2018.00V836.31H2002.90ZM1998.90,823.81H2002.90V834.11H1998.90ZM1996.50,827.76H1998.90V830.16H1996.50ZM353.00,772.75H368.10V787.45H353.00ZM368.10,774.95H372.10V785.25H368.10ZM372.10,778.90H374.50V781.30H372.10ZM2002.90,772.75H2018.00V787.45H2002.90ZM1998.90,774.95H2002.90V785.25H1998.90ZM1996.50,778.90H1998.90V781.30H1996.50ZM353.00,738.08H368.10V752.78H353.00ZM368.10,740.28H372.10V750.58H368.10ZM372.10,744.23H374.50V746.63H372.10ZM2002.90,738.08H2018.00V752.78H2002.90ZM1998.90,740.28H2002.90V750.58H1998.90ZM1996.50,744.23H1998.90V746.63H1996.50ZM353.00,711.19H368.10V725.89H353.00ZM368.10,713.39H372.10V723.69H368.10ZM372.10,717.34H374.50V719.74H372.10ZM2002.90,711.19H2018.00V725.89H2002.90ZM1998.90,713.39H2002.90V723.69H1998.90ZM1996.50,717.34H1998.90V719.74H1996.50ZM353.00,689.21H368.10V703.91H353.00ZM368.10,691.41H372.10V701.71H368.10ZM372.10,695.36H374.50V697.76H372.10ZM2002.90,689.21H2018.00V703.91H2002.90ZM1998.90,691.41H2002.90V701.71H1998.90ZM1996.50,695.36H1998.90V697.76H1996.50ZM353.00,670.64H368.10V685.34H353.00ZM368.10,672.84H372.10V683.14H368.10ZM372.10,676.79H374.50V679.19H372.10ZM2002.90,670.64H2018.00V685.34H2002.90ZM1998.90,672.84H2002.90V683.14H1998.90ZM1996.50,676.79H1998.90V679.19H1996.50ZM353.00,654.54H368.10V669.24H353.00ZM368.10,656.74H372.10V667.04H368.10ZM372.10,660.69H374.50V663.09H372.10ZM2002.90,654.54H2018.00V669.24H2002.90ZM1998.90,656.74H2002.90V667.04H1998.90ZM1996.50,660.69H1998.90V663.09H1996.50ZM353.00,640.35H368.10V655.05H353.00ZM368.10,642.55H372.10V652.85H368.10ZM372.10,646.50H374.50V648.90H372.10ZM2002.90,640.35H2018.00V655.05H2002.90ZM1998.90,642.55H2002.90V652.85H1998.90ZM1996.50,646.50H1998.90V648.90H1996.50ZM353.00,1099.11H368.10V1113.81H353.00ZM368.10,1101.31H372.10V1111.61H368.10ZM372.10,1105.26H374.50V1107.66H372.10ZM2002.90,1099.11H2018.00V1113.81H2002.90ZM1998.90,1101.31H2002.90V1111.61H1998.90ZM1996.50,1105.26H1998.90V1107.66H1996.50ZM353.00,1050.25H368.10V1064.95H353.00ZM368.10,1052.45H372.10V1062.75H368.10ZM372.10,1056.40H374.50V1058.80H372.10ZM2002.90,1050.25H2018.00V1064.95H2002.90ZM1998.90,1052.45H2002.90V1062.75H1998.90ZM1996.50,1056.40H1998.90V1058.80H1996.50ZM353.00,1015.58H368.10V1030.28H353.00ZM368.10,1017.78H372.10V1028.08H368.10ZM372.10,1021.73H374.50V1024.13H372.10ZM2002.90,1015.58H2018.00V1030.28H2002.90ZM1998.90,1017.78H2002.90V1028.08H1998.90ZM1996.50,1021.73H1998.90V1024.13H1996.50ZM353.00,988.69H368.10V1003.39H353.00ZM368.10,990.89H372.10V1001.19H368.10ZM372.10,994.84H374.50V997.24H372.10ZM2002.90,988.69H2018.00V1003.39H2002.90ZM1998.90,990.89H2002.90V1001.19H1998.90ZM1996.50,994.84H1998.90V997.24H1996.50ZM353.00,966.71H368.10V981.41H353.00ZM368.10,968.91H372.10V979.21H368.10ZM372.10,972.86H374.50V975.26H372.10ZM2002.90,966.71H2018.00V981.41H2002.90ZM1998.90,968.91H2002.90V979.21H1998.90ZM1996.50,972.86H1998.90V975.26H1996.50ZM353.00,948.14H368.10V962.84H353.00ZM368.10,950.34H372.10V960.64H368.10ZM372.10,954.29H374.50V956.69H372.10ZM2002.90,948.14H2018.00V962.84H2002.90ZM1998.90,950.34H2002.90V960.64H1998.90ZM1996.50,954.29H1998.90V956.69H1996.50ZM353.00,932.04H368.10V946.74H353.00ZM368.10,934.24H372.10V944.54H368.10ZM372.10,938.19H374.50V940.59H372.10ZM2002.90,932.04H2018.00V946.74H2002.90ZM1998.90,934.24H2002.90V944.54H1998.90ZM1996.50,938.19H1998.90V940.59H1996.50ZM353.00,917.85H368.10V932.55H353.00ZM368.10,920.05H372.10V930.35H368.10ZM372.10,924.00H374.50V926.40H372.10ZM2002.90,917.85H2018.00V932.55H2002.90ZM1998.90,920.05H2002.90V930.35H1998.90ZM1996.50,924.00H1998.90V926.40H1996.50ZM353.00,1376.61H368.10V1391.31H353.00ZM368.10,1378.81H372.10V1389.11H368.10ZM372.10,1382.76H374.50V1385.16H372.10ZM2002.90,1376.61H2018.00V1391.31H2002.90ZM1998.90,1378.81H2002.90V1389.11H1998.90ZM1996.50,1382.76H1998.90V1385.16H1996.50ZM353.00,1327.75H368.10V1342.45H353.00ZM368.10,1329.95H372.10V1340.25H368.10ZM372.10,1333.90H374.50V1336.30H372.10ZM2002.90,1327.75H2018.00V1342.45H2002.90ZM1998.90,1329.95H2002.90V1340.25H1998.90ZM1996.50,1333.90H1998.90V1336.30H1996.50ZM353.00,1293.08H368.10V1307.78H353.00ZM368.10,1295.28H372.10V1305.58H368.10ZM372.10,1299.23H374.50V1301.63H372.10ZM2002.90,1293.08H2018.00V1307.78H2002.90ZM1998.90,1295.28H2002.90V1305.58H1998.90ZM1996.50,1299.23H1998.90V1301.63H1996.50ZM353.00,1266.19H368.10V1280.89H353.00ZM368.10,1268.39H372.10V1278.69H368.10ZM372.10,1272.34H374.50V1274.74H372.10ZM2002.90,1266.19H2018.00V1280.89H2002.90ZM1998.90,1268.39H2002.90V1278.69H1998.90ZM1996.50,1272.34H1998.90V1274.74H1996.50ZM353.00,1244.21H368.10V1258.91H353.00ZM368.10,1246.41H372.10V1256.71H368.10ZM372.10,1250.36H374.50V1252.76H372.10ZM2002.90,1244.21H2018.00V1258.91H2002.90ZM1998.90,1246.41H2002.90V1256.71H1998.90ZM1996.50,1250.36H1998.90V1252.76H1996.50ZM353.00,1225.64H368.10V1240.34H353.00ZM368.10,1227.84H372.10V1238.14H368.10ZM372.10,1231.79H374.50V1234.19H372.10ZM2002.90,1225.64H2018.00V1240.34H2002.90ZM1998.90,1227.84H2002.90V1238.14H1998.90ZM1996.50,1231.79H1998.90V1234.19H1996.50ZM353.00,1209.54H368.10V1224.24H353.00ZM368.10,1211.74H372.10V1222.04H368.10ZM372.10,1215.69H374.50V1218.09H372.10ZM2002.90,1209.54H2018.00V1224.24H2002.90ZM1998.90,1211.74H2002.90V1222.04H1998.90ZM1996.50,1215.69H1998.90V1218.09H1996.50ZM353.00,1195.35H368.10V1210.05H353.00ZM368.10,1197.55H372.10V1207.85H368.10ZM372.10,1201.50H374.50V1203.90H372.10ZM2002.90,1195.35H2018.00V1210.05H2002.90ZM1998.90,1197.55H2002.90V1207.85H1998.90ZM1996.50,1201.50H1998.90V1203.90H1996.50ZM353.00,1654.11H368.10V1668.81H353.00ZM368.10,1656.31H372.10V1666.61H368.10ZM372.10,1660.26H374.50V1662.66H372.10ZM2002.90,1654.11H2018.00V1668.81H2002.90ZM1998.90,1656.31H2002.90V1666.61H1998.90ZM1996.50,1660.26H1998.90V1662.66H1996.50ZM353.00,1605.25H368.10V1619.95H353.00ZM368.10,1607.45H372.10V1617.75H368.10ZM372.10,1611.40H374.50V1613.80H372.10ZM2002.90,1605.25H2018.00V1619.95H2002.90ZM1998.90,1607.45H2002.90V1617.75H1998.90ZM1996.50,1611.40H1998.90V1613.80H1996.50ZM353.00,1570.58H368.10V1585.28H353.00ZM368.10,1572.78H372.10V1583.08H368.10ZM372.10,1576.73H374.50V1579.13H372.10ZM2002.90,1570.58H2018.00V1585.28H2002.90ZM1998.90,1572.78H2002.90V1583.08H1998.90ZM1996.50,1576.73H1998.90V1579.13H1996.50ZM353.00,1543.69H368.10V1558.39H353.00ZM368.10,1545.89H372.10V1556.19H368.10ZM372.10,1549.84H374.50V1552.24H372.10ZM2002.90,1543.69H2018.00V1558.39H2002.90ZM1998.90,1545.89H2002.90V1556.19H1998.90ZM1996.50,1549.84H1998.90V1552.24H1996.50ZM353.00,1521.71H368.10V1536.41H353.00ZM368.10,1523.91H372.10V1534.21H368.10ZM372.10,1527.86H374.50V1530.26H372.10ZM2002.90,1521.71H2018.00V1536.41H2002.90ZM1998.90,1523.91H2002.90V1534.21H1998.90ZM1996.50,1527.86H1998.90V1530.26H1996.50ZM353.00,1503.14H368.10V1517.84H353.00ZM368.10,1505.34H372.10V1515.64H368.10ZM372.10,1509.29H374.50V1511.69H372.10ZM2002.90,1503.14H2018.00V1517.84H2002.90ZM1998.90,1505.34H2002.90V1515.64H1998.90ZM1996.50,1509.29H1998.90V1511.69H1996.50ZM353.00,1487.04H368.10V1501.74H353.00ZM368.10,1489.24H372.10V1499.54H368.10ZM372.10,1493.19H374.50V1495.59H372.10ZM2002.90,1487.04H2018.00V1501.74H2002.90ZM1998.90,1489.24H2002.90V1499.54H1998.90ZM1996.50,1493.19H1998.90V1495.59H1996.50ZM353.00,1472.85H368.10V1487.55H353.00ZM368.10,1475.05H372.10V1485.35H368.10ZM372.10,1479.00H374.50V1481.40H372.10ZM2002.90,1472.85H2018.00V1487.55H2002.90ZM1998.90,1475.05H2002.90V1485.35H1998.90ZM1996.50,1479.00H1998.90V1481.40H1996.50Z" fill="#000"/>
<g font-family='"Liberation Sans", Arial, Helvetica, sans-serif' fill="#000" style="font-variant-ligatures:none;font-kerning:none"><text x="0" y="0" font-size="95.5" transform="matrix(1.0 0 0 1.03 183.04 119.20)">1</text>
<text x="0" y="0" font-size="95.5" transform="matrix(1.0 0 0 1.03 234.92 119.20)">0</text>
<text x="0" y="0" font-size="57.0" transform="matrix(1.0 0 0 1.03 289.35 65.40)">0</text>
<text x="0" y="0" font-size="95.5" transform="matrix(1.0 0 0 1.03 163.64 396.70)">1</text>
<text x="0" y="0" font-size="95.5" transform="matrix(1.0 0 0 1.03 215.22 396.70)">0</text>
<text x="0" y="0" font-size="57.0" transform="matrix(1.15 0 0 1 269.79 344.40)">-</text>
<text x="0" y="0" font-size="57.0" transform="matrix(1.0 0 0 1.03 292.33 342.90)">1</text>
<text x="0" y="0" font-size="95.5" transform="matrix(1.0 0 0 1.03 163.64 674.20)">1</text>
<text x="0" y="0" font-size="95.5" transform="matrix(1.0 0 0 1.03 215.22 674.20)">0</text>
<text x="0" y="0" font-size="57.0" transform="matrix(1.15 0 0 1 269.79 621.90)">-</text>
<text x="0" y="0" font-size="57.0" transform="matrix(1.0 0 0 1.03 288.55 620.40)">2</text>
<text x="0" y="0" font-size="95.5" transform="matrix(1.0 0 0 1.03 163.64 951.70)">1</text>
<text x="0" y="0" font-size="95.5" transform="matrix(1.0 0 0 1.03 215.22 951.70)">0</text>
<text x="0" y="0" font-size="57.0" transform="matrix(1.15 0 0 1 269.79 899.40)">-</text>
<text x="0" y="0" font-size="57.0" transform="matrix(1.0 0 0 1.03 288.72 897.90)">3</text>
<text x="0" y="0" font-size="95.5" transform="matrix(1.0 0 0 1.03 163.64 1229.20)">1</text>
<text x="0" y="0" font-size="95.5" transform="matrix(1.0 0 0 1.03 215.22 1229.20)">0</text>
<text x="0" y="0" font-size="57.0" transform="matrix(1.15 0 0 1 269.79 1176.90)">-</text>
<text x="0" y="0" font-size="57.0" transform="matrix(1.0 0 0 1.03 288.73 1175.40)">4</text>
<text x="0" y="0" font-size="95.5" transform="matrix(1.0 0 0 1.03 163.64 1506.70)">1</text>
<text x="0" y="0" font-size="95.5" transform="matrix(1.0 0 0 1.03 215.22 1506.70)">0</text>
<text x="0" y="0" font-size="57.0" transform="matrix(1.15 0 0 1 269.79 1454.40)">-</text>
<text x="0" y="0" font-size="57.0" transform="matrix(1.0 0 0 1.03 288.61 1452.90)">5</text>
<text x="0" y="0" font-size="95.5" transform="matrix(1.0 0 0 1.03 163.64 1784.20)">1</text>
<text x="0" y="0" font-size="95.5" transform="matrix(1.0 0 0 1.03 215.22 1784.20)">0</text>
<text x="0" y="0" font-size="57.0" transform="matrix(1.15 0 0 1 269.79 1731.90)">-</text>
<text x="0" y="0" font-size="57.0" transform="matrix(1.0 0 0 1.03 288.35 1730.40)">6</text>
<text x="0" y="0" font-size="95.5" transform="matrix(1.0 0 0 1.03 324.64 1850.70)">0</text>
<text x="0" y="0" font-size="95.5" transform="matrix(1.0 0 0 1.03 661.34 1850.70)">1</text>
<text x="0" y="0" font-size="95.5" transform="matrix(1.0 0 0 1.03 990.64 1850.70)">2</text>
<text x="0" y="0" font-size="95.5" transform="matrix(1.0 0 0 1.03 1323.92 1850.70)">3</text>
<text x="0" y="0" font-size="95.5" transform="matrix(1.0 0 0 1.03 1656.95 1850.70)">4</text>
<text x="0" y="0" font-size="95.5" transform="matrix(1.0 0 0 1.03 1989.74 1850.70)">5</text>
<g transform="translate(114.8 0) rotate(-90)"><text x="0" y="0" font-size="116" transform="matrix(1.0 0 0 1.03 -1028.31 0.00)">I</text><text x="0" y="0" font-size="116" transform="matrix(0.86 0 0 0.97 -963.89 0.00)">(</text><text x="0" y="0" font-size="116" transform="matrix(1.0 0 0 1.03 -926.43 0.00)">A</text><text x="0" y="0" font-size="116" transform="matrix(0.86 0 0 0.97 -841.98 0.00)">)</text></g>
<g clip-path="url(#xc)"><text x="0" y="0" font-size="115" transform="matrix(1.0 0 0 1.03 930.50 1965.60)">V</text><text x="0" y="0" font-size="114" transform="matrix(1.0 0 0 0.955 1007.60 2003.00)">app</text><text x="0" y="0" font-size="115" transform="matrix(0.87 0 0 0.985 1199.40 1963.50)">(</text><text x="0" y="0" font-size="115" transform="matrix(1.0 0 0 1.03 1237.39 1965.60)">V</text><text x="0" y="0" font-size="115" transform="matrix(0.87 0 0 0.985 1320.51 1963.50)">)</text></g>
<text x="542.88" y="211.00" font-size="99">Finite differences simulator</text>
<text x="552.54" y="375.20" font-size="99">h=4</text>
<text x="721.04" y="367.80" font-size="99">·</text>
<text x="758.06" y="375.20" font-size="99">1</text>
<text x="808.21" y="375.20" font-size="99">0</text>
<text x="866.76" y="336.80" font-size="99">1</text>
<text x="916.51" y="336.80" font-size="99">0</text>
<text x="975.26" y="375.20" font-size="99">W/</text>
<text x="1093.92" y="375.20" font-size="69">(</text>
<text x="1116.98" y="375.20" font-size="99">K</text>
<text x="1184.04" y="367.40" font-size="99">·</text>
<text x="1218.13" y="375.20" font-size="99">m</text>
<text x="1299.12" y="336.80" font-size="99">2</text>
<text x="1358.90" y="375.20" font-size="69">)</text>
<text x="552.54" y="540.50" font-size="99">h=8</text>
<text x="721.04" y="533.10" font-size="99">·</text>
<text x="758.06" y="540.50" font-size="99">1</text>
<text x="808.21" y="540.50" font-size="99">0</text>
<text x="866.76" y="502.10" font-size="99">1</text>
<text x="916.51" y="502.10" font-size="99">0</text>
<text x="975.26" y="540.50" font-size="99">W/</text>
<text x="1093.92" y="540.50" font-size="69">(</text>
<text x="1116.98" y="540.50" font-size="99">K</text>
<text x="1184.04" y="532.70" font-size="99">·</text>
<text x="1218.13" y="540.50" font-size="99">m</text>
<text x="1299.12" y="502.10" font-size="99">2</text>
<text x="1358.90" y="540.50" font-size="69">)</text></g>
<g fill="#fff"><rect x="189.04" y="110.55" width="17.87" height="9.85"/><rect x="215.65" y="110.55" width="17.27" height="9.85"/><rect x="169.64" y="388.05" width="17.87" height="9.85"/><rect x="196.25" y="388.05" width="17.27" height="9.85"/><rect x="295.50" y="337.21" width="11.01" height="6.89"/><rect x="311.85" y="337.21" width="10.71" height="6.89"/><rect x="169.64" y="665.55" width="17.87" height="9.85"/><rect x="196.25" y="665.55" width="17.27" height="9.85"/><rect x="169.64" y="943.05" width="17.87" height="9.85"/><rect x="196.25" y="943.05" width="17.27" height="9.85"/><rect x="169.64" y="1220.55" width="17.87" height="9.85"/><rect x="196.25" y="1220.55" width="17.27" height="9.85"/><rect x="169.64" y="1498.05" width="17.87" height="9.85"/><rect x="196.25" y="1498.05" width="17.27" height="9.85"/><rect x="169.64" y="1775.55" width="17.87" height="9.85"/><rect x="196.25" y="1775.55" width="17.27" height="9.85"/><rect x="667.34" y="1842.05" width="17.87" height="9.85"/><rect x="693.95" y="1842.05" width="17.27" height="9.85"/><rect x="764.31" y="366.50" width="18.49" height="9.90"/><rect x="791.85" y="366.50" width="17.87" height="9.90"/><rect x="873.01" y="328.10" width="18.49" height="9.90"/><rect x="900.55" y="328.10" width="17.87" height="9.90"/><rect x="764.31" y="531.80" width="18.49" height="9.90"/><rect x="791.85" y="531.80" width="17.87" height="9.90"/><rect x="873.01" y="493.40" width="18.49" height="9.90"/><rect x="900.55" y="493.40" width="17.87" height="9.90"/></g>
<path d="M414.70,188.05H526.10V202.75H414.70ZM410.10,190.30H530.70V200.50H410.10ZM407.50,194.30H533.30V196.50H407.50Z" fill="#000"/>
<path d="M469.8,170.5 L495.3,196.0 L469.8,221.5 L444.3,196.0Z" fill="#000"/>
<path d="M414.40,352.15H525.40V366.85H414.40ZM409.80,354.40H530.00V364.60H409.80ZM407.20,358.40H532.60V360.60H407.20Z" fill="#0000ff"/>
<path d="M414.40,518.65H470.80V533.35H414.40ZM409.80,520.90H475.40V531.10H409.80ZM407.20,524.90H478.00V527.10H407.20Z" fill="#ff00ff"/>
</svg></body></html>
